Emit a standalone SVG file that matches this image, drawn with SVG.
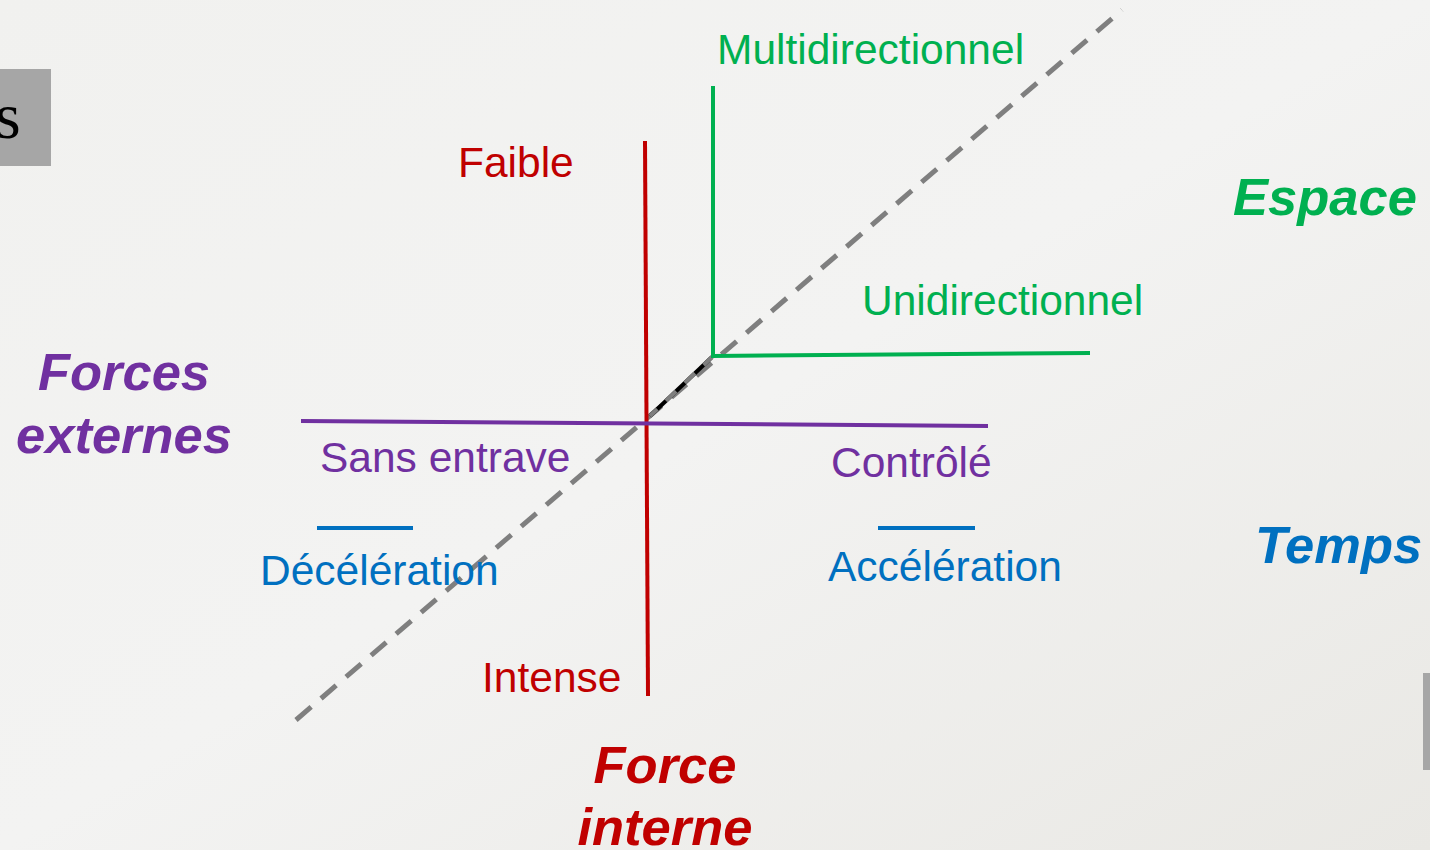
<svg xmlns="http://www.w3.org/2000/svg" width="1430" height="850" viewBox="0 0 1430 850">
<defs>
<linearGradient id="bg" x1="0" y1="0" x2="1" y2="1">
<stop offset="0" stop-color="#f1f1ef"/>
<stop offset="0.5" stop-color="#f3f3f2"/>
<stop offset="1" stop-color="#e9e8e4"/>
</linearGradient>
<style>
.t{font-family:"Liberation Sans",Arial,sans-serif;font-size:42.5px}
.b{font-family:"Liberation Sans",Arial,sans-serif;font-size:52.5px;font-weight:bold;font-style:italic}
.g{fill:#00b050}.r{fill:#c00000}.p{fill:#7030a0}.u{fill:#0070c0}
</style>
</defs>
<rect width="1430" height="850" fill="url(#bg)"/>
<g id="side-box">
<rect x="0" y="69" width="51" height="97" fill="#a6a6a6"/>
<text x="-5" y="138" font-family="Liberation Serif,serif" font-size="66" fill="#000">s</text>
</g>
<rect id="side-bar" x="1423" y="673" width="7" height="97" fill="#a6a6a6"/>
<g id="connectors" fill="none">
<line x1="296" y1="720" x2="1122" y2="10" stroke="#7f7f7f" stroke-width="5" stroke-dasharray="20,13"/>
<line x1="650" y1="416" x2="712" y2="357" stroke="#000" stroke-width="4"/>
<line x1="650" y1="416" x2="712" y2="357" stroke="#7f7f7f" stroke-width="4" stroke-dasharray="14,12" stroke-dashoffset="4"/>
<polyline points="713,86 713,356 1090,353" stroke="#00b050" stroke-width="4"/>
<line x1="645" y1="141" x2="648" y2="696" stroke="#c00000" stroke-width="4"/>
<line x1="301" y1="421" x2="988" y2="426" stroke="#7030a0" stroke-width="4"/>
<line x1="317" y1="528" x2="413" y2="528" stroke="#0070c0" stroke-width="4"/>
<line x1="878" y1="528" x2="975" y2="528" stroke="#0070c0" stroke-width="4"/>
</g>
<g id="espace">
<text class="t g" x="717" y="64">Multidirectionnel</text>
<text class="t g" x="862" y="315">Unidirectionnel</text>
<text class="b g" x="1233" y="215" font-size="53.5">Espace</text>
</g>
<g id="force-interne">
<text class="t r" x="458" y="177">Faible</text>
<text class="t r" x="482" y="692">Intense</text>
<text class="b r" x="665" y="783" text-anchor="middle">Force</text>
<text class="b r" x="665" y="845" text-anchor="middle">interne</text>
</g>
<g id="forces-externes">
<text class="b p" x="124" y="390" text-anchor="middle">Forces</text>
<text class="b p" x="124" y="453" text-anchor="middle">externes</text>
<text class="t p" x="320" y="472">Sans entrave</text>
<text class="t p" x="831" y="477">Contrôlé</text>
</g>
<g id="temps">
<text class="b u" x="1255" y="563">Temps</text>
<text class="t u" x="260" y="585">Décélération</text>
<text class="t u" x="828" y="581">Accélération</text>
</g>
</svg>
